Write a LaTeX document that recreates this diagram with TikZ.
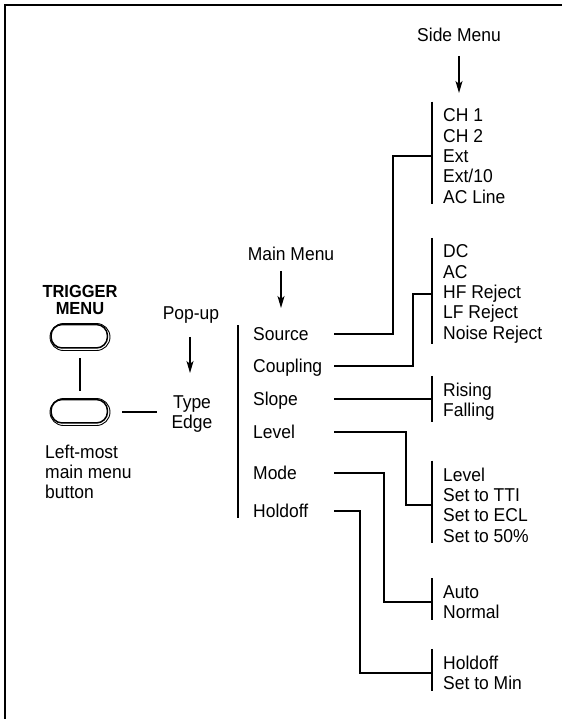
\documentclass[tikz,border=0pt]{standalone}
\usepackage{fontspec}
\setmainfont{Liberation Sans}[FakeStretch=0.94]
\usetikzlibrary{arrows.meta, positioning, calc}

\begin{document}
\begin{tikzpicture}[x=1pt, y=-1pt,
  every node/.style={font=\fontsize{18.6}{20.3}\selectfont, inner sep=0pt},
  heading/.style={text height=13.3pt, text depth=0pt},
  menuitem/.style={anchor=west, text width=81pt, text height=13.3pt, text depth=0pt},
  sidelist/.style={anchor=west, align=left, inner xsep=11pt},
  link/.style={line width=2pt},
  bar/.style={line width=2pt},
  arr/.style={line width=1.3pt, -{Stealth[length=12pt, width=7pt, inset=3pt]}},
  pill/.style={draw, line width=0.9pt, minimum width=60pt, minimum height=27pt, rounded corners=13.5pt}
]
  \useasboundingbox (0,0) rectangle (562,719);
  \draw[line width=2pt] (5,719) -- (5,5) -- (562,5);

  \def\menubutton#1#2{%
    \node[pill] (#1) at (#2) {};
    \draw[line width=1.5pt, rounded corners=11pt]
      ([shift={(1.5,1.5)}]#1.north west) rectangle ([shift={(-3,-3)}]#1.south east);
  }

  % front panel
  \node[align=center, font=\bfseries\fontsize{17.5}{17}\selectfont] (trigtxt) at (80,300) {TRIGGER\\MENU};
  \menubutton{trig}{80,337}
  \menubutton{mmb}{80,412}
  \node[anchor=west, align=left] (mmbtxt) at (45,472) {Left-most\\main menu\\button};
  \draw[link, shorten <=7.5pt, shorten >=7.5pt] (trig) -- (mmb);

  % pop-up
  \node[heading] (pophd) at (191,313) {Pop-up};
  \coordinate (poptip) at (190,373);
  \node[align=center] (typ) at (192,414) {Type\\Edge};
  \draw[arr, shorten <=17pt] (pophd.south -| poptip) -- (poptip);
  \draw[link, shorten <=12pt, shorten >=14pt] (mmb.east) -- (mmb.east -| typ.west);

  % main menu
  \node[heading] (mainhd) at (291,254) {Main Menu};
  \coordinate (maintip) at (281,308);
  \draw[arr, shorten <=10pt] (mainhd.south -| maintip) -- (maintip);
  \node[menuitem] (src) at (253,334) {Source};
  \node[menuitem] (cpl) at (253,366) {Coupling};
  \node[menuitem] (slp) at (253,399) {Slope};
  \node[menuitem] (lvl) at (253,432) {Level};
  \node[menuitem] (mod) at (253,473) {Mode};
  \node[menuitem] (hld) at (253,511) {Holdoff};
  \draw[bar] ([xshift=-15pt, yshift=2pt]src.north west) -- ([xshift=-15pt]hld.south west);

  % side menus
  \node[heading] (sidehd) at (459,35) {Side Menu};
  \coordinate (sidetip) at (459,93);
  \draw[arr, shorten <=14pt] (sidehd.south) -- (sidetip);

  \node[sidelist] (srclist) at (432,156) {CH 1\\CH 2\\Ext\\Ext/10\\AC Line};
  \node[sidelist] (cpllist) at (432,294) {DC\\AC\\HF Reject\\LF Reject\\Noise Reject};
  \node[sidelist] (slplist) at (432,402) {Rising\\Falling};
  \node[sidelist] (lvllist) at (432,505) {Level\\Set to TTI\\Set to ECL\\Set to 50\%};
  \node[sidelist] (modlist) at (432,602) {Auto\\Normal};
  \node[sidelist] (hldlist) at (432,673) {Holdoff\\Set to Min};

  \foreach \lst in {srclist, cpllist, slplist, lvllist, modlist, hldlist}
    \draw[bar] ([yshift=7pt]\lst.north west) -- ([yshift=-1pt]\lst.south west);

  % connectors
  \draw[link] (src.east) -- ++(59,0) |- (srclist.west);
  \draw[link] (cpl.east) -- ++(79,0) |- (cpllist.west);
  \draw[link] (slp.east) -- (slp.east -| slplist.west);
  \draw[link] (lvl.east) -- ++(72,0) |- (lvllist.west);
  \draw[link] (mod.east) -- ++(50,0) |- (modlist.west);
  \draw[link] (hld.east) -- ++(26,0) |- (hldlist.west);
\end{tikzpicture}
\end{document}
